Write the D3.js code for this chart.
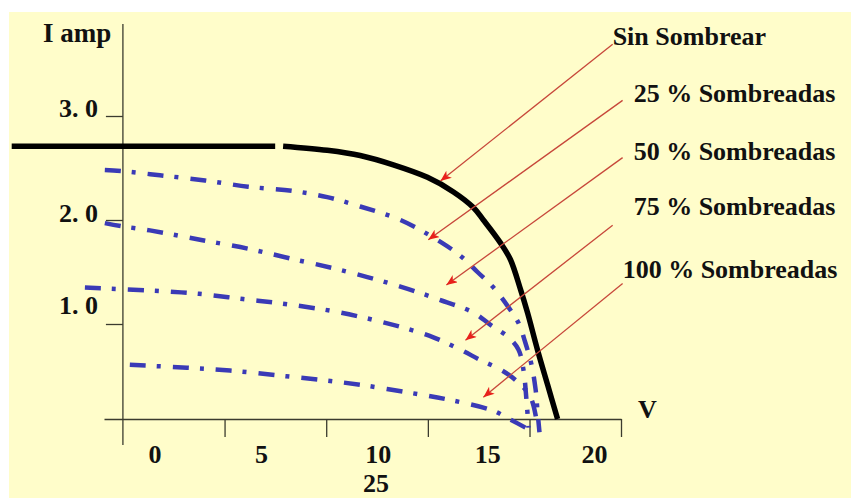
<!DOCTYPE html>
<html>
<head>
<meta charset="utf-8">
<script src="https://cdn.jsdelivr.net/npm/d3@7"></script>
<style>
html, body { margin: 0; padding: 0; background: #fff; }
svg { display: block; }
text { font-family: "Liberation Serif", "Times New Roman", serif; font-weight: bold; fill: #111; }
</style>
</head>
<body>
<script>
// curves, V on x, I (amp) on y
let sinSombrear = [
    {v: -5.47, i: 2.71}, {v: 7.49, i: 2.71}, null,
    {v: 7.88, i: 2.71}, {v: 10.05, i: 2.67}, {v: 11.67, i: 2.62}, {v: 13.30, i: 2.53},
    {v: 14.98, i: 2.41}, {v: 16.26, i: 2.27}, {v: 17.24, i: 2.12}, {v: 17.73, i: 2.00},
    {v: 18.57, i: 1.78}, {v: 19.06, i: 1.62}, {v: 19.56, i: 1.33}, {v: 19.90, i: 1.11},
    {v: 20.39, i: 0.73}, {v: 20.89, i: 0.36}, {v: 21.38, i: 0.0}
];
let sombreadas25 = [
    {v: -0.89, i: 2.48}, {v: -0.05, i: 2.47}, {v: 1.82, i: 2.43}, {v: 4.04, i: 2.38},
    {v: 6.16, i: 2.32}, {v: 8.33, i: 2.28}, {v: 10.05, i: 2.22}, {v: 11.67, i: 2.13},
    {v: 13.65, i: 2.00}, {v: 15.62, i: 1.79}, {v: 16.70, i: 1.64}, {v: 17.44, i: 1.50},
    {v: 18.23, i: 1.35}, {v: 18.97, i: 1.16}, {v: 19.46, i: 1.01}, {v: 19.80, i: 0.80},
    {v: 20.10, i: 0.57}, {v: 20.30, i: 0.31}, {v: 20.39, i: 0.09}, {v: 20.49, i: -0.14}
];
let sombreadas50 = [
    {v: -0.89, i: 1.97}, {v: -0.05, i: 1.94}, {v: 1.33, i: 1.90}, {v: 3.79, i: 1.81},
    {v: 6.26, i: 1.72}, {v: 8.23, i: 1.63}, {v: 10.69, i: 1.52}, {v: 13.65, i: 1.36},
    {v: 15.62, i: 1.23}, {v: 17.24, i: 1.11}, {v: 18.08, i: 0.99}, {v: 18.97, i: 0.86},
    {v: 19.46, i: 0.73}, {v: 19.70, i: 0.52}, {v: 19.85, i: 0.20}, {v: 19.95, i: -0.09}
];
let sombreadas75 = [
    {v: -1.87, i: 1.35}, {v: -0.64, i: 1.34}, {v: 1.58, i: 1.32}, {v: 3.74, i: 1.29},
    {v: 5.91, i: 1.24}, {v: 8.08, i: 1.19}, {v: 10.69, i: 1.11}, {v: 13.65, i: 0.97},
    {v: 15.27, i: 0.86}, {v: 16.60, i: 0.73}, {v: 17.59, i: 0.62}, {v: 18.57, i: 0.52},
    {v: 19.31, i: 0.41}, {v: 20.00, i: 0.25}, {v: 20.30, i: 0.04}, {v: 20.34, i: -0.06}
];
let sombreadas100 = [
    {v: 0.34, i: 0.57}, {v: 3.15, i: 0.54}, {v: 5.27, i: 0.51}, {v: 7.59, i: 0.46},
    {v: 9.80, i: 0.41}, {v: 11.67, i: 0.36}, {v: 13.99, i: 0.28}, {v: 16.11, i: 0.20},
    {v: 18.18, i: 0.09}, {v: 18.92, i: 0.01}, {v: 20.05, i: -0.12}
];

let xTickValues = [0, 5, 10, 15, 20, 24.5];
let xTickLabels = ["0", "5", "10", "15", "20"];
let yTickValues = [1, 2, 3];
let yTickLabels = ["1. 0", "2. 0", "3. 0"];

// arrows: from label to curve
let labels = ["Sin Sombrear", "25 % Sombreadas", "50 % Sombreadas", "75 % Sombreadas", "100 % Sombreadas"];
let arrowFrom = [{v: 24.09, i: 3.69}, {v: 24.58, i: 3.15}, {v: 24.58, i: 2.60}, {v: 24.09, i: 1.95}, {v: 24.58, i: 1.39}];
let arrowTo = [{v: 15.62, i: 2.375}, {v: 15.02, i: 1.81}, {v: 15.91, i: 1.375}, {v: 16.85, i: 0.83}, {v: 17.73, i: 0.23}];

// layout
let width = 851, height = 498;
let labelShift = [[0, 1], [11, 2], [11, 2], [21, -10], [0, -5]];
let xLabelShift = [32, 37, 52, 60, 65];
let yLabelShift = [-10, 2, 1];

let svg = d3.select("body").append("svg")
    .attr("width", width)
    .attr("height", height);

svg.append("rect")
    .attr("x", 9).attr("y", 12)
    .attr("width", width - 9).attr("height", height - 12)
    .attr("fill", "#fffdca");

let x = d3.scaleLinear().domain([-0.93, 24.5]).range([104, 621]);
let y = d3.scaleLinear().domain([0, 1, 2, 3]).range([419, 324, 220, 116]);

let axisColor = "#3b3b2e";

// x axis
let xAxis = svg.append("g")
    .attr("transform", "translate(0," + y(0) + ")")
    .call(d3.axisBottom(x).tickValues(xTickValues.slice(1)).tickSize(18).tickSizeOuter(0).tickFormat(""));
xAxis.select(".domain").attr("stroke", axisColor).attr("stroke-width", 1.3);
xAxis.selectAll(".tick line").attr("stroke", axisColor).attr("stroke-width", 1.3);

// y axis
svg.append("line")
    .attr("x1", x(0)).attr("x2", x(0))
    .attr("y1", 24).attr("y2", 445)
    .attr("stroke", axisColor).attr("stroke-width", 1.3);
let yAxis = svg.append("g")
    .attr("transform", "translate(" + x(0) + ",0)")
    .call(d3.axisLeft(y).tickValues(yTickValues).tickSize(17).tickFormat(""));
yAxis.select(".domain").remove();
yAxis.selectAll(".tick line").attr("stroke", axisColor).attr("stroke-width", 1.3);

// tick labels
svg.selectAll(".xlab").data(xTickLabels).enter().append("text")
    .attr("class", "xlab")
    .attr("x", (d, k) => x(xTickValues[k]) + xLabelShift[k])
    .attr("y", 463)
    .attr("text-anchor", "middle")
    .attr("font-size", 26)
    .text(d => d);
svg.append("text")
    .attr("x", 376).attr("y", 492)
    .attr("text-anchor", "middle")
    .attr("font-size", 26)
    .text("25");

svg.selectAll(".ylab").data(yTickLabels).enter().append("text")
    .attr("class", "ylab")
    .attr("x", 98)
    .attr("y", (d, k) => y(yTickValues[k]) + yLabelShift[k])
    .attr("text-anchor", "end")
    .attr("font-size", 26)
    .text(d => d);

svg.append("text").attr("x", 43).attr("y", 42).attr("font-size", 27).text("I amp");
svg.append("text").attr("x", 638).attr("y", 418).attr("font-size", 26).text("V");

// curves
let line = d3.line()
    .defined(d => d !== null)
    .x(d => x(d.v))
    .y(d => y(d.i))
    .curve(d3.curveCatmullRom.alpha(0.5));

[sombreadas25, sombreadas50, sombreadas75, sombreadas100].forEach(s => {
    svg.append("path")
        .attr("d", line(s))
        .attr("fill", "none")
        .attr("stroke", "#3a3ab6")
        .attr("stroke-width", 4.5)
        .attr("stroke-dasharray", "16,11,4,12");
});

svg.append("path")
    .attr("d", line(sinSombrear))
    .attr("fill", "none")
    .attr("stroke", "#000")
    .attr("stroke-width", 5.5);

// arrows
svg.append("defs").append("marker")
    .attr("id", "head")
    .attr("markerUnits", "userSpaceOnUse")
    .attr("markerWidth", 12).attr("markerHeight", 10)
    .attr("refX", 11).attr("refY", 4.5)
    .attr("orient", "auto")
    .append("path")
    .attr("d", "M0,0 L11,4.5 L0,9 L3,4.5 Z")
    .attr("fill", "#e8211b");

labels.forEach((t, k) => {
    let a = arrowFrom[k], b = arrowTo[k];
    svg.append("line")
        .attr("x1", x(a.v)).attr("y1", y(a.i))
        .attr("x2", x(b.v)).attr("y2", y(b.i))
        .attr("stroke", "#c7473a")
        .attr("stroke-width", 1.3)
        .attr("marker-end", "url(#head)");
    svg.append("text")
        .attr("x", x(a.v) + labelShift[k][0])
        .attr("y", y(a.i) + labelShift[k][1])
        .attr("font-size", 26)
        .text(t);
});
</script>
</body>
</html>
